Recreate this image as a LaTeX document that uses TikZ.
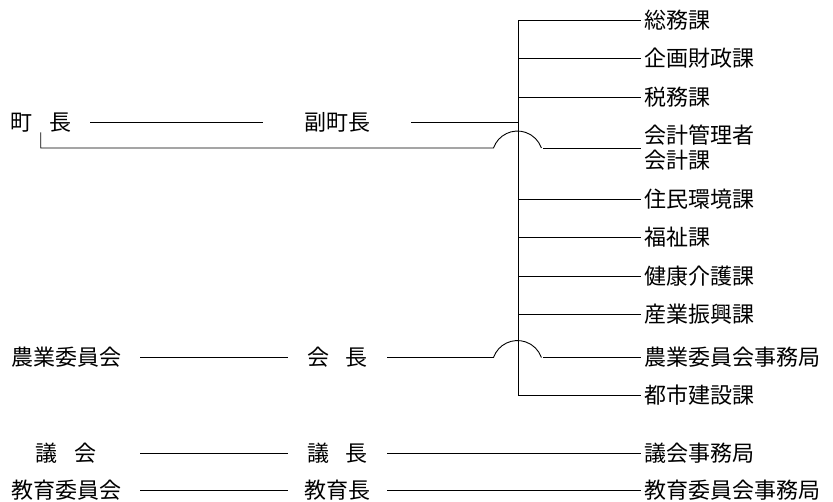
\documentclass[tikz,border=0pt]{standalone}
\usepackage{fontspec}
\setmainfont{Noto Sans CJK JP}
\newcommand\kgap{\hspace{17pt}}

\begin{document}
\begin{tikzpicture}[x=1pt,y=-1pt,
    every node/.style={font=\fontsize{22}{25}\selectfont,inner sep=0pt},
    body/.style={anchor=west,minimum width=112pt},
    post/.style={minimum width=99pt},
    dept/.style={anchor=west,inner xsep=3pt,align=left},
    link/.style={line width=0.9pt},
    hop/.style={start angle=199.4,end angle=340.6,radius=25.4}]
  \useasboundingbox (0,0) rectangle (833,501);
  % spine
  \coordinate (top) at (518,20);
  \coordinate (bot) at (518,395);
  \draw[link] (top) -- (bot);
  % departments on the spine
  \foreach \y/\t [count=\i] in {20/総務課, 58.5/企画財政課, 97.5/税務課, 199/住民環境課,
      237.5/福祉課, 276/健康介護課, 314.5/産業振興課, 395/都市建設課}{
    \node[dept] (d\i) at (641,\y) {\t};
    \draw[link] (d\i.west -| top) -- (d\i.west);
  }
  % mayor and deputy
  \node[anchor=west] (cho) at (10,122.5) {町\kgap 長};
  \node[post] (fuku) at (337.5,122.5) {副町長};
  \draw[link,shorten <=19pt,shorten >=25pt] (cho) -- (fuku);
  \draw[link,shorten <=24pt] (fuku) -- (fuku -| top);
  % accounting, line hops over the spine
  \coordinate (hop1) at (493.5,148);
  \coordinate (hop1r) at (543,148);
  \node[dept] (kaikei) at (641,148) {会計管理者\\会計課};
  \draw[link] (cho.south) |- (hop1) arc[hop];
  \draw[link] (hop1r) -- (kaikei);
  % agricultural committee
  \node[body] (nogyo) at (10,357.5) {農業委員会};
  \node[post] (kaicho) at (337.5,357.5) {会\kgap 長};
  \node[dept] (nogyoj) at (641,357.5) {農業委員会事務局};
  \coordinate (hop2) at (493.5,357.5);
  \coordinate (hop2r) at (543,357.5);
  \draw[link,shorten <=18pt] (nogyo) -- (kaicho);
  \draw[link] (kaicho) -- (hop2) arc[hop];
  \draw[link] (hop2r) -- (nogyoj);
  % assembly and education board
  \node[body] (gikai) at (10,453) {議\kgap 会};
  \node[post] (gicho) at (337.5,453) {議\kgap 長};
  \node[dept] (gikaij) at (641,453) {議会事務局};
  \draw[link,shorten <=18pt] (gikai) -- (gicho);
  \draw[link] (gicho) -- (gikaij);
  \node[body] (kyoiku) at (10,490) {教育委員会};
  \node[post] (kyoikucho) at (337.5,490) {教育長};
  \node[dept] (kyoikuj) at (641,490) {教育委員会事務局};
  \draw[link,shorten <=18pt] (kyoiku) -- (kyoikucho);
  \draw[link] (kyoikucho) -- (kyoikuj);
\end{tikzpicture}
\end{document}
